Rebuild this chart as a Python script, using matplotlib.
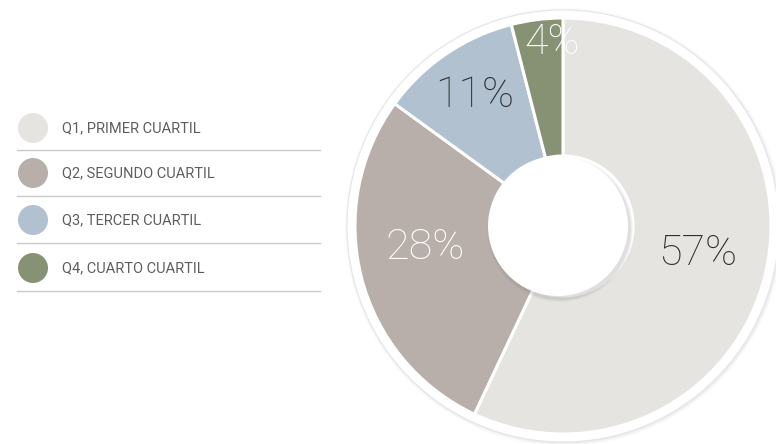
import matplotlib
matplotlib.use("Agg")
import matplotlib.pyplot as plt
from matplotlib.patches import Circle
import numpy as np

# ---- data ----
categories = ["Q1, PRIMER CUARTIL", "Q2, SEGUNDO CUARTIL", "Q3, TERCER CUARTIL", "Q4, CUARTO CUARTIL"]
values = [57, 28, 11, 4]
pct_labels = ["57%", "28%", "11%", "4%"]
colors = ["#e5e4e0", "#b8afab", "#b1c1cf", "#879274"]
label_colors = ["#2e2e2e", "#ffffff", "#2e2e2e", "#ffffff"]
label_radius_frac = [0.66, 0.67, 0.76, 0.885]
label_angle_offset = [1.0, -5.5, 0.0, -3.8]

W, H = 776, 444
fig = plt.figure(figsize=(W / 100, H / 100), dpi=100)
ax = fig.add_axes([0, 0, 1, 1])

cx, cy = 563, H - 226
R = 208
r_in = 70

# outer ring with soft shadow
for i, a in enumerate([0.04, 0.06, 0.09]):
    ax.add_patch(Circle((cx + 1, cy - 1), R + 11 - i * 1.2, facecolor="#9a9a9a", edgecolor="none", alpha=a, zorder=1))
ax.add_patch(Circle((cx, cy), R + 8, facecolor="white", edgecolor="#e6e6e6", lw=0.8, zorder=2))

wedges, _ = ax.pie(values, colors=colors, startangle=90, counterclock=False,
                   radius=R, center=(cx, cy),
                   wedgeprops=dict(width=R - r_in, edgecolor="white", linewidth=2.2))
for w in wedges:
    w.set_zorder(3)

# inner hole with drop shadow
for i, a in enumerate([0.06, 0.08, 0.12]):
    ax.add_patch(Circle((cx - 3, cy - 3), r_in + 3 - i, facecolor="#808080", edgecolor="none", alpha=a, zorder=4))
ax.add_patch(Circle((cx - 5, cy), r_in, facecolor="white", edgecolor="none", zorder=5))

# percentage labels
total = sum(values)
start = 90.0
for v, lab, col, fr, off in zip(values, pct_labels, label_colors, label_radius_frac, label_angle_offset):
    sweep = 360.0 * v / total
    mid = np.deg2rad(start - sweep / 2 + off)
    x = cx + R * fr * np.cos(mid)
    y = cy + R * fr * np.sin(mid)
    ax.text(x, y, lab, ha="center", va="center", fontsize=31, color=col,
            family=["Roboto", "DejaVu Sans"], fontweight="light", zorder=6)
    start -= sweep

# legend
leg_y = [128, 173, 220, 268]
line_y = [150, 196, 243, 291]
for ly, lny, c, t in zip(leg_y, line_y, colors, categories):
    ax.add_patch(Circle((33, H - ly), 15, facecolor=c, edgecolor="none", zorder=3))
    ax.text(62, H - ly, t, ha="left", va="center", fontsize=10.5, color="#5e5e5e",
            family=["Roboto", "DejaVu Sans"], zorder=3)
    ax.plot([17, 320], [H - lny, H - lny], color="#c9c9c9", lw=1.0, zorder=2)

ax.set_xlim(0, W)
ax.set_ylim(0, H)
ax.set_aspect("equal")
ax.axis("off")
fig.savefig("out.png", dpi=100, facecolor="white")
